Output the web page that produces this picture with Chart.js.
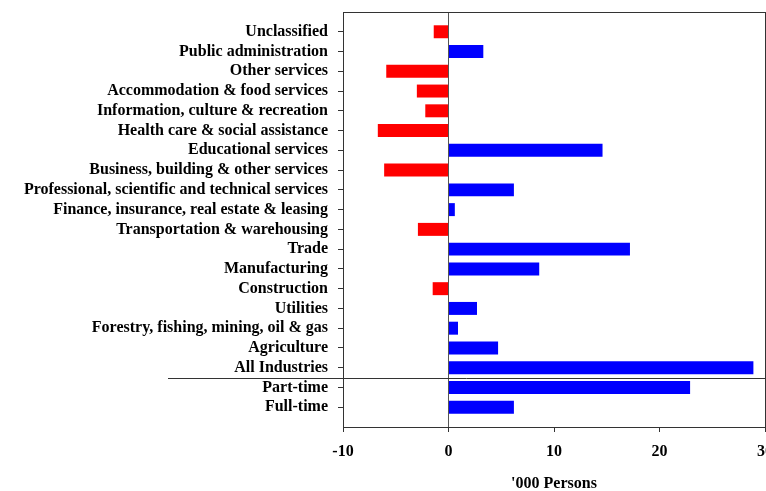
<!DOCTYPE html>
<html>
<head>
<meta charset="utf-8">
<script src="https://cdn.jsdelivr.net/npm/chart.js@4/dist/chart.umd.min.js"></script>
<style>
  html,body{margin:0;padding:0;background:#fff;overflow:hidden;}
  #wrap{width:800px;height:491px;}
</style>
</head>
<body>
<div id="wrap"><canvas id="chg"></canvas></div>
<script>
// categories, top to bottom
const industries = [
  'Unclassified',
  'Public administration',
  'Other services',
  'Accommodation & food services',
  'Information, culture & recreation',
  'Health care & social assistance',
  'Educational services',
  'Business, building & other services',
  'Professional, scientific and technical services',
  'Finance, insurance, real estate & leasing',
  'Transportation & warehousing',
  'Trade',
  'Manufacturing',
  'Construction',
  'Utilities',
  'Forestry, fishing, mining, oil & gas',
  'Agriculture',
  'All Industries',
  'Part-time',
  'Full-time'
];
// change, '000 persons
const change = [-1.4, 3.3, -5.9, -3.0, -2.2, -6.7, 14.6, -6.1, 6.2, 0.6,
                -2.9, 17.2, 8.6, -1.5, 2.7, 0.9, 4.7, 28.9, 22.9, 6.2];
const xTicks = [-10, 0, 10, 20, 30];

const fontBold = {family:'"Liberation Serif","Times New Roman",serif', size:16, weight:'bold'};

// frame round the plot + rule above Part-time/Full-time
const framePlugin = {
  id:'frame',
  afterDraw(chart){
    const {ctx, chartArea:a, scales} = chart;
    ctx.save();
    ctx.strokeStyle = '#333';
    ctx.lineWidth = 1;
    ctx.strokeRect(a.left+0.5, a.top+0.5, a.right-a.left, a.bottom-a.top);
    const y = Math.round(scales.y.getPixelForValue(17.5))+0.5;
    ctx.beginPath(); ctx.moveTo(168, y); ctx.lineTo(a.right, y); ctx.stroke();
    ctx.restore();
  }
};

new Chart(document.getElementById('chg'), {
  type:'bar',
  data:{ datasets:[{
    data: change.map((v,i)=>({x:v, y:i})),
    backgroundColor: change.map(v=> v<0 ? '#ff0000' : '#0000ff'),
    borderWidth:0,
    categoryPercentage:0.8,
    barPercentage:0.82
  }]},
  options:{
    indexAxis:'y',
    responsive:true, maintainAspectRatio:false, animation:false,
    layout:{ padding:{ top:12, right:35, left:0, bottom:0 } },
    plugins:{ legend:{display:false}, tooltip:{enabled:false} },
    scales:{
      x:{
        type:'linear', min:-10, max:30,
        afterBuildTicks: s=>{ s.ticks = xTicks.map(v=>({value:v})); },
        afterFit: s=>{ s.height = 64; },
        grid:{
          color: c=> c.tick && c.tick.value===0 ? '#555' : 'rgba(0,0,0,0)',
          tickColor:'#333', tickLength:5, lineWidth:1
        },
        border:{ color:'#333' },
        ticks:{ color:'#000', font:fontBold, padding:10 },
        title:{ display:true, text:"'000 Persons", color:'#000', font:fontBold, padding:{top:0,bottom:-2} }
      },
      y:{
        type:'linear', min:-1, max:20, reverse:true, offset:false,
        afterBuildTicks: s=>{ s.ticks = industries.map((_,i)=>({value:i})); },
        afterFit: s=>{ s.width = 343; s.paddingTop = 0; s.paddingBottom = 0; },
        grid:{ offset:false, drawOnChartArea:false, tickColor:'#333', tickLength:5 },
        border:{ color:'#333' },
        ticks:{ color:'#000', font:fontBold, padding:10, autoSkip:false,
          callback: v=> industries[v] || '' }
      }
    }
  },
  plugins:[framePlugin]
});
</script>
</body>
</html>
